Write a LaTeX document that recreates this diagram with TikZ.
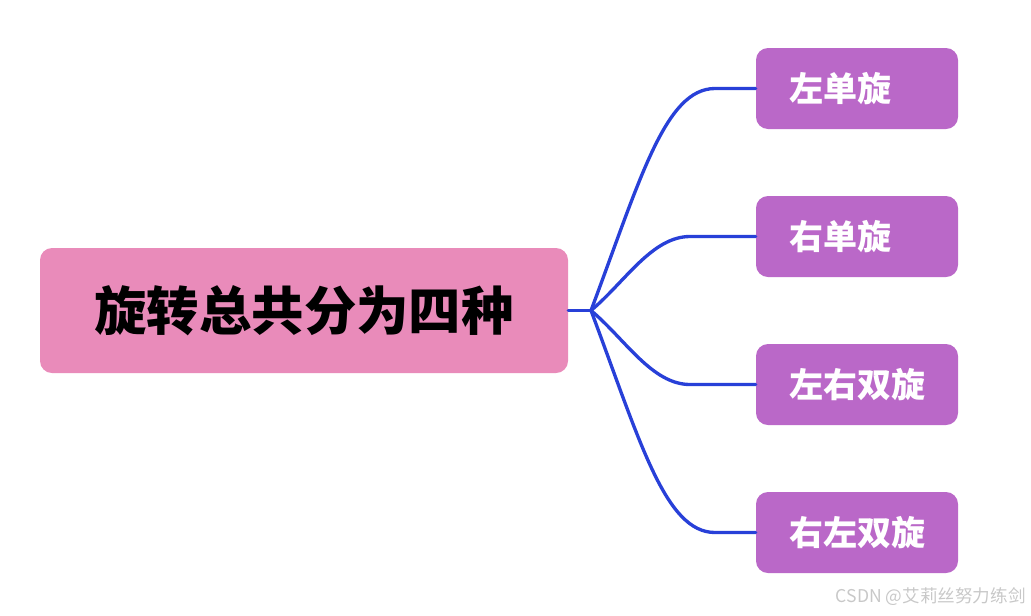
\documentclass[tikz,border=0pt]{standalone}
\usepackage{fontspec}
\newfontfamily\cjk{Noto Sans CJK SC}
\definecolor{rootfill}{HTML}{E98BBA}
\definecolor{childfill}{HTML}{BA68C8}
\definecolor{linkblue}{HTML}{2840D8}
\definecolor{wmgray}{HTML}{C8C8C8}
\tikzset{
  rootbox/.style={fill=rootfill, rounded corners=9pt, minimum width=396pt, minimum height=93.75pt, inner sep=0pt, font=\cjk\bfseries\fontsize{39.3}{44}\selectfont, text=black},
  childbox/.style={fill=childfill, rounded corners=9pt, minimum height=60.75pt, inner ysep=0pt, inner xsep=24.75pt, text width=102pt, align=left, font=\cjk\bfseries\fontsize{25.5}{30}\selectfont, text=white},
  link/.style={draw=linkblue, line width=2.5pt, line cap=round, line join=round},
  watermark/.style={font=\cjk\fontsize{13.2}{15}\selectfont, text=wmgray, anchor=east, inner sep=0pt}
}
\begin{document}
\begin{tikzpicture}[x=0.75pt,y=-0.75pt]
\useasboundingbox (0,0) rectangle (1031,615);
\node[rootbox] (root) at (304,310.5) {旋转总共分为四种};
\node[childbox] (c1) at (857,88.5) {左单旋};
\node[childbox] (c2) at (857,236.5) {右单旋};
\node[childbox] (c3) at (857,384.5) {左右双旋};
\node[childbox] (c4) at (857,532.5) {右左双旋};
\coordinate (j) at (591,310.5);
\coordinate (k1) at (715,88.5);
\coordinate (k2) at (690,236.5);
\coordinate (k3) at (690,384.5);
\coordinate (k4) at (715,532.5);
\draw[link] (root.east) -- (j);
\draw[link] (j) .. controls (640,180) and (665,88.5) .. (k1) -- (c1.west);
\draw[link] (j) .. controls (625,282) and (652,236.5) .. (k2) -- (c2.west);
\draw[link] (j) .. controls (625,339) and (652,384.5) .. (k3) -- (c3.west);
\draw[link] (j) .. controls (640,441) and (665,532.5) .. (k4) -- (c4.west);
\node[watermark] (wm) at (1026,597) {CSDN @艾莉丝努力练剑};
\end{tikzpicture}
\end{document}
